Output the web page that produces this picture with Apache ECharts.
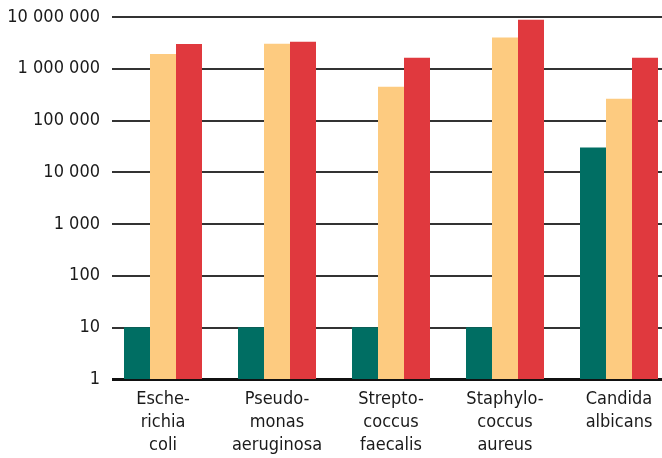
<!DOCTYPE html>
<html>
<head>
<meta charset="utf-8">
<script src="https://cdn.jsdelivr.net/npm/echarts@6/dist/echarts.min.js"></script>
<style>
    html, body { margin: 0; padding: 0; background: #fff; }
    #main { width: 662px; height: 458px; }
</style>
</head>
<body>
<div id="main"></div>
<script>
// organisms on the x axis
var categories = [
    'Esche-\nrichia\ncoli',
    'Pseudo-\nmonas\naeruginosa',
    'Strepto-\ncoccus\nfaecalis',
    'Staphylo-\ncoccus\naureus',
    'Candida\nalbicans'
];
// three series
var tealValues = [10, 10, 10, 10, 30000];
var orangeValues = [1930000, 3050000, 450000, 4000000, 263000];
var redValues = [3000000, 3340000, 1630000, 8800000, 1630000];

var fontFamily = '"Liberation Sans Narrow", "DejaVu Sans Condensed", "Liberation Sans", Arial, sans-serif';

// 10000000 -> "10 000 000"
function spaced(v) {
    return String(Math.round(v)).replace(/\B(?=(\d{3})+(?!\d))/g, ' ');
}

function bar(values, color) {
    return {
        type: 'bar',
        data: values,
        barWidth: 26,
        barGap: '0%',
        itemStyle: {color: color},
        silent: true
    };
}

var option = {
    animation: false,
    backgroundColor: '#fff',
    grid: {left: 106, top: 17, width: 570, bottom: 79, outerBoundsMode: 'none', containLabel: false},
    // grid lines start a little right of the category band in the original
    graphic: [{
        type: 'rect',
        left: 104,
        top: 0,
        z: 100,
        shape: {width: 8, height: 384},
        style: {fill: '#fff'}
    }],
    xAxis: {
        type: 'category',
        data: categories,
        axisLine: {lineStyle: {color: '#111', width: 3}},
        axisTick: {show: false},
        axisLabel: {
            interval: 0,
            color: '#1a1a1a',
            fontFamily: fontFamily,
            fontSize: 18,
            lineHeight: 23,
            margin: 9
        }
    },
    yAxis: {
        type: 'log',
        logBase: 10,
        min: 1,
        max: 10000000,
        interval: 1,
        axisLine: {show: false},
        axisTick: {show: false},
        splitLine: {lineStyle: {color: '#333', width: 2}},
        axisLabel: {
            color: '#1a1a1a',
            fontFamily: fontFamily,
            fontSize: 18,
            margin: 6,
            formatter: spaced
        }
    },
    series: [
        bar(tealValues, '#006e63'),
        bar(orangeValues, '#fdcb80'),
        bar(redValues, '#e0393e')
    ]
};

var myChart = echarts.init(document.getElementById('main'));
myChart.setOption(option);
</script>
</body>
</html>
